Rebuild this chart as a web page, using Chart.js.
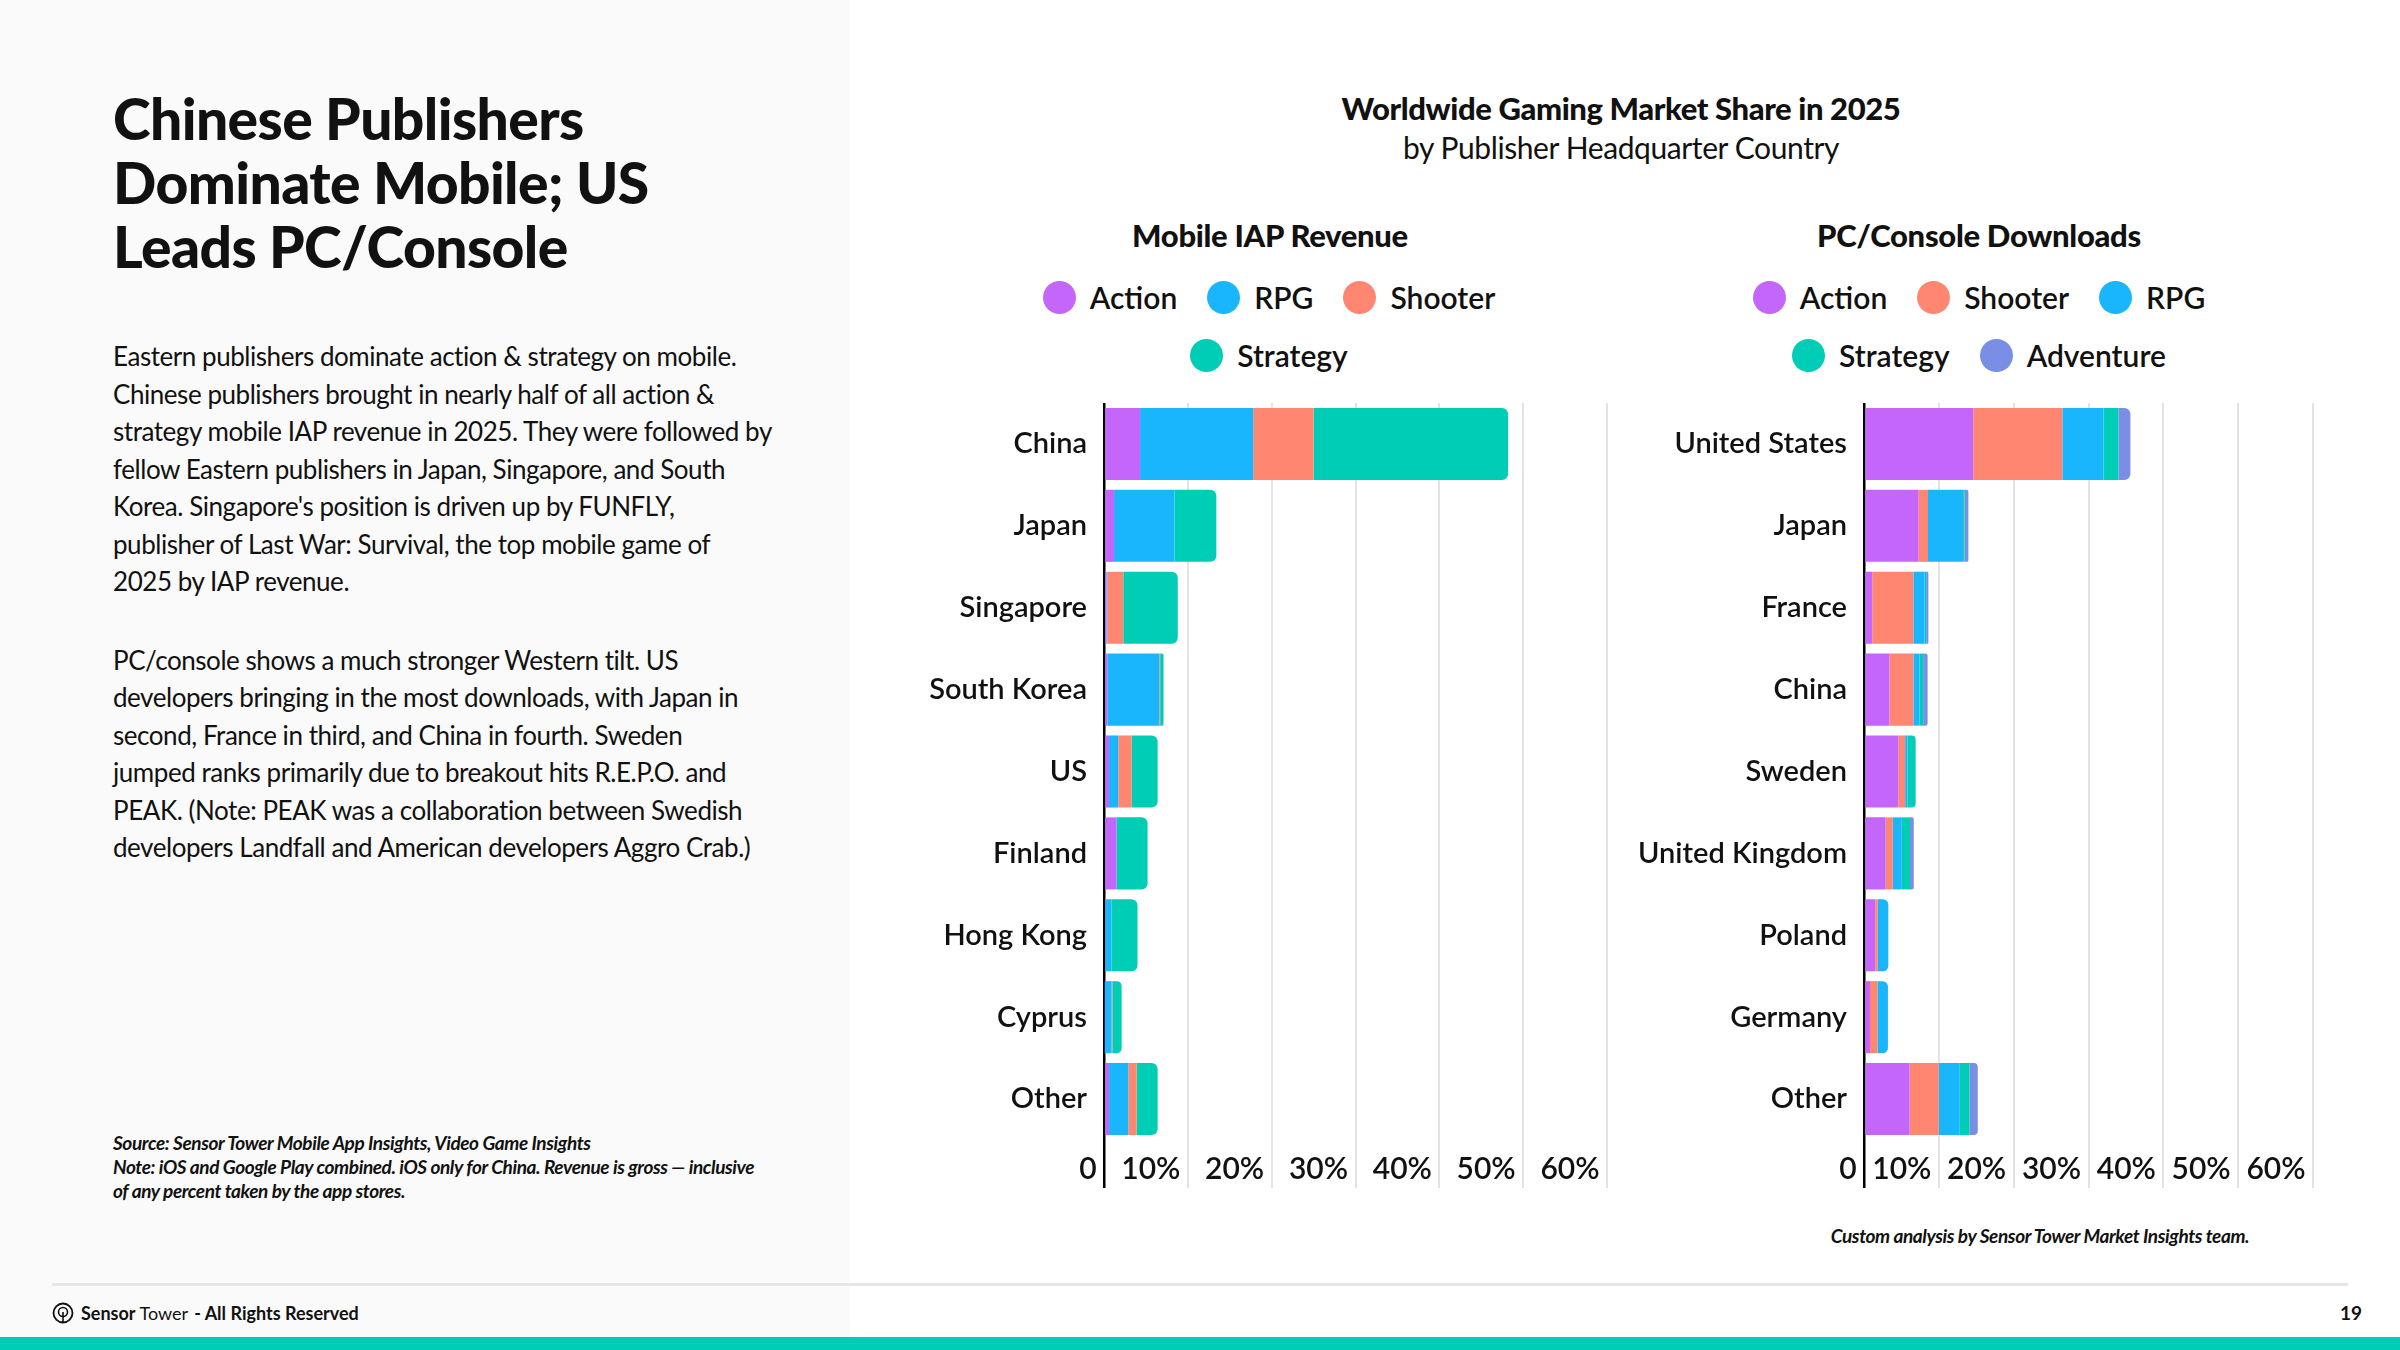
<!DOCTYPE html>
<html>
<head>
<meta charset="utf-8">
<script src="https://cdn.jsdelivr.net/npm/chart.js@4.4.1/dist/chart.umd.min.js"></script>
<style>
  html, body { margin: 0; padding: 0; }
  body {
    width: 2400px; height: 1350px; position: relative; overflow: hidden;
    background: #ffffff; font-family: 'Lato', sans-serif; color: #111;
  }
  .side { position: absolute; left: 0; top: 0; width: 850px; height: 1338px; background: #fafafa; }
  h1 {
    position: absolute; left: 113px; top: 86px; margin: 0;
    font-weight: 900; font-size: 57px; line-height: 64px; letter-spacing: -0.6px; white-space: nowrap;
  }
  .body {
    position: absolute; left: 113px; top: 338px; margin: 0;
    font-size: 26px; line-height: 37.5px; letter-spacing: -0.45px; white-space: nowrap;
  }
  .body p { margin: 0 0 41px 0; }
  .source {
    position: absolute; left: 113px; top: 1131px;
    font-size: 19px; line-height: 24px; font-style: italic; font-weight: 700; letter-spacing: -0.4px; white-space: nowrap;
  }
  .ctitle { position: absolute; left: 1221px; width: 800px; text-align: center; white-space: nowrap; }
  .t1 { top: 89px; font-size: 31px; font-weight: 900; letter-spacing: -0.4px; }
  .t2 { top: 129px; font-size: 30px; font-weight: 400; letter-spacing: -0.4px; }
  .sub { position: absolute; top: 216px; width: 600px; text-align: center; font-size: 31px; font-weight: 900; letter-spacing: -0.3px; }
  .legend { position: absolute; top: 274px; width: 600px; }
  .legend .row { display: flex; justify-content: center; height: 46px; margin-bottom: 12px; }
  .legend .item { display: flex; align-items: center; height: 46px; margin: 0 15px; font-size: 30px; font-weight: 600; }
  .legend .dot { width: 33px; height: 33px; border-radius: 50%; margin-right: 14px; }
  canvas { position: absolute; }
  .note {
    position: absolute; left: 1740px; width: 600px; top: 1224px; text-align: center;
    font-size: 19px; font-style: italic; font-weight: 700; letter-spacing: -0.4px;
  }
  .rule { position: absolute; left: 52px; top: 1283px; width: 2296px; height: 3px; background: #e6e6e6; }
  .foot { position: absolute; left: 52px; top: 1298px; height: 30px; display: flex; align-items: center; font-size: 18px; white-space: nowrap; }
  .foot svg { margin-right: 7px; }
  .page { position: absolute; right: 38px; top: 1298px; height: 30px; line-height: 30px; font-size: 19px; font-weight: 700; }
  .band { position: absolute; left: 0; top: 1337px; width: 2400px; height: 13px; background: #00cdb6; }
</style>
</head>
<body>
<div class="side"></div>

<h1>Chinese Publishers<br>Dominate Mobile; US<br>Leads PC/Console</h1>

<div class="body">
  <p>Eastern publishers dominate action &amp; strategy on mobile.<br>
  Chinese publishers brought in nearly half of all action &amp;<br>
  strategy mobile IAP revenue in 2025. They were followed by<br>
  fellow Eastern publishers in Japan, Singapore, and South<br>
  Korea. Singapore's position is driven up by FUNFLY,<br>
  publisher of Last War: Survival, the top mobile game of<br>
  2025 by IAP revenue.</p>
  <p>PC/console shows a much stronger Western tilt. US<br>
  developers bringing in the most downloads, with Japan in<br>
  second, France in third, and China in fourth. Sweden<br>
  jumped ranks primarily due to breakout hits R.E.P.O. and<br>
  PEAK. (Note: PEAK was a collaboration between Swedish<br>
  developers Landfall and American developers Aggro Crab.)</p>
</div>

<div class="source">Source: Sensor Tower Mobile App Insights, Video Game Insights<br>
Note: iOS and Google Play combined. iOS only for China. Revenue is gross — inclusive<br>
of any percent taken by the app stores.</div>

<div class="ctitle t1">Worldwide Gaming Market Share in 2025</div>
<div class="ctitle t2">by Publisher Headquarter Country</div>

<div class="sub" style="left:970px">Mobile IAP Revenue</div>
<div class="sub" style="left:1679px">PC/Console Downloads</div>

<div class="legend" id="legendMobile" style="left:969px"></div>
<div class="legend" id="legendPc" style="left:1679px"></div>

<canvas id="chartMobile" width="740" height="813" style="left:900px; top:399px"></canvas>
<canvas id="chartPc" width="743" height="813" style="left:1600px; top:399px"></canvas>

<div class="note">Custom analysis by Sensor Tower Market Insights team.</div>

<div class="rule"></div>
<div class="foot">
  <svg width="22" height="22" viewBox="0 0 22 22">
    <circle cx="11" cy="11" r="9.5" fill="none" stroke="#111" stroke-width="1.8"/>
    <circle cx="11" cy="10" r="4.5" fill="none" stroke="#111" stroke-width="1.6"/>
    <line x1="11" y1="10" x2="11" y2="20" stroke="#111" stroke-width="1.6"/>
  </svg>
  <b style="font-weight:700">Sensor</b><span style="margin-left:4px">Tower</span><b style="margin-left:6px">- All Rights Reserved</b>
</div>
<div class="page">19</div>
<div class="band"></div>

<script>
// ---- data ----
const mobileCountries = ['China', 'Japan', 'Singapore', 'South Korea', 'US', 'Finland', 'Hong Kong', 'Cyprus', 'Other'];
const mobileAction   = [4.3, 1.2, 0.3, 0.4, 0.6, 1.5, 0, 0.1, 0.6];
const mobileRpg      = [13.5, 7.2, 0.1, 6.2, 1.1, 0, 0.9, 0.8, 2.3];
const mobileShooter  = [7.2, 0, 1.9, 0.1, 1.6, 0, 0, 0.1, 1.0];
const mobileStrategy = [23.2, 5.0, 6.5, 0.4, 3.1, 3.7, 3.1, 1.1, 2.5];

const pcCountries = ['United States', 'Japan', 'France', 'China', 'Sweden', 'United Kingdom', 'Poland', 'Germany', 'Other'];
const pcAction    = [14.6, 7.3, 1.1, 3.4, 4.6, 2.9, 1.5, 0.8, 6.1];
const pcShooter   = [11.9, 1.25, 5.5, 3.2, 0.9, 0.95, 0.35, 1.0, 3.9];
const pcRpg       = [5.5, 4.7, 1.5, 0.8, 0.3, 1.2, 1.4, 1.4, 2.8];
const pcStrategy  = [2.0, 0.2, 0.2, 0.5, 1.1, 1.1, 0, 0, 1.3];
const pcAdventure = [1.6, 0.5, 0.3, 0.6, 0, 0.5, 0, 0, 1.1];

const xTicks = [0, 10, 20, 30, 40, 50, 60];

const COLORS = {
  Action: '#c466fa',
  RPG: '#1ab6fd',
  Shooter: '#ff8670',
  Strategy: '#00cdb6',
  Adventure: '#7a8ee6'
};

Chart.defaults.font.family = 'Lato';
Chart.defaults.color = '#111';

// legenda em HTML, em linhas fixas como no original
function montarLegenda(id, series, linhas) {
  const el = document.getElementById(id);
  let pos = 0;
  linhas.forEach(n => {
    const row = document.createElement('div');
    row.className = 'row';
    series.slice(pos, pos + n).forEach(s => {
      const item = document.createElement('div');
      item.className = 'item';
      item.innerHTML = `<span class="dot" style="background:${COLORS[s.name]}"></span>${s.name}`;
      row.appendChild(item);
    });
    el.appendChild(row);
    pos += n;
  });
}

function criarGrafico(canvasId, categorias, series, yWidth, padRight) {
  // só o último segmento com valor recebe canto arredondado
  const topoDaPilha = categorias.map((_, i) => {
    let last = -1;
    series.forEach((s, k) => { if (s.data[i] > 0) last = k; });
    return last;
  });

  new Chart(document.getElementById(canvasId), {
    type: 'bar',
    data: {
      labels: categorias,
      datasets: series.map((s, k) => ({
        label: s.name,
        data: s.data,
        backgroundColor: COLORS[s.name],
        borderWidth: 0,
        barPercentage: 0.88,
        categoryPercentage: 1,
        borderRadius: ctx => (topoDaPilha[ctx.dataIndex] === k ? 6 : 0)
      }))
    },
    options: {
      indexAxis: 'y',
      responsive: false,
      animation: false,
      layout: { padding: { top: 4, right: padRight, bottom: 20, left: 0 } },
      plugins: { legend: { display: false }, tooltip: { enabled: false } },
      scales: {
        x: {
          stacked: true,
          min: xTicks[0],
          max: xTicks[xTicks.length - 1],
          afterBuildTicks: scale => { scale.ticks = xTicks.map(v => ({ value: v })); },
          afterFit: scale => { scale.height = 52; },
          border: { display: false },
          grid: {
            color: ctx => (ctx.tick && ctx.tick.value === 0 ? '#000' : '#e3e3e3'),
            lineWidth: ctx => (ctx.tick && ctx.tick.value === 0 ? 2.5 : 2),
            tickLength: 48
          },
          ticks: {
            align: 'end',
            padding: -37,
            font: { size: 30, weight: '600' },
            color: '#111',
            callback: v => (v === 0 ? '0' : v + '%') + ' '
          }
        },
        y: {
          stacked: true,
          afterFit: scale => {
            scale.width = yWidth;
            scale.paddingTop = 0;
            scale.paddingBottom = 0;
          },
          border: { display: false },
          grid: { display: false },
          ticks: { padding: 9, font: { size: 29, weight: '600' }, color: '#111' }
        }
      }
    }
  });
}

const mobileSeries = [
  { name: 'Action', data: mobileAction },
  { name: 'RPG', data: mobileRpg },
  { name: 'Shooter', data: mobileShooter },
  { name: 'Strategy', data: mobileStrategy }
];
const pcSeries = [
  { name: 'Action', data: pcAction },
  { name: 'Shooter', data: pcShooter },
  { name: 'RPG', data: pcRpg },
  { name: 'Strategy', data: pcStrategy },
  { name: 'Adventure', data: pcAdventure }
];

montarLegenda('legendMobile', mobileSeries, [3, 1]);
montarLegenda('legendPc', pcSeries, [3, 2]);
criarGrafico('chartMobile', mobileCountries, mobileSeries, 204, 33);
criarGrafico('chartPc', pcCountries, pcSeries, 264, 30);
</script>
</body>
</html>
